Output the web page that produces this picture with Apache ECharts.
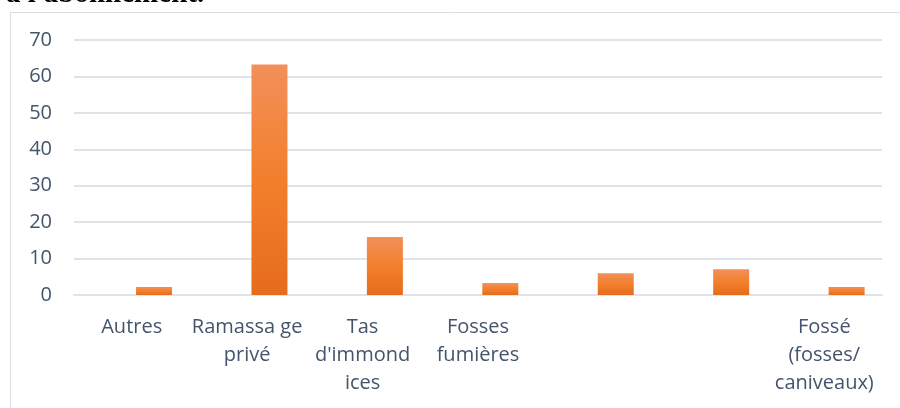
<!DOCTYPE html>
<html>
<head>
<meta charset="utf-8">
<script src="https://cdn.jsdelivr.net/npm/echarts@6/dist/echarts.min.js"></script>
<style>
  html, body { margin: 0; padding: 0; background: #ffffff; }
  #chart { width: 900px; height: 408px; }
</style>
</head>
<body>
<div id="chart"></div>
<script>
// Mode d'évacuation des ordures (%)
const categories = [
  'Autres',
  'Ramassa ge\nprivé',
  'Tas\nd\'immond\nices',
  'Fosses\nfumières',
  '',
  ' ',
  'Fossé\n(fosses/\ncaniveaux)'
];
const emptySeries = [0, 0, 0, 0, 0, 0, 0];
const values = [2.2, 63.3, 15.9, 3.3, 6.0, 7.1, 2.2];
const yTicks = { min: 0, max: 70, interval: 10 };
const headingText = 'à l\'abonnement.';

const textColor = '#44546a';
const gridColor = '#e0e3e9';
const fontFamily = '"Open Sans", Lato, sans-serif';

const chart = echarts.init(document.getElementById('chart'), null, { renderer: 'canvas' });

chart.setOption({
  backgroundColor: '#ffffff',
  animation: false,
  graphic: [
    {
      type: 'rect',
      shape: { x: 10.5, y: 12.5, width: 900, height: 420 },
      style: { fill: '#ffffff', stroke: '#d9dde5', lineWidth: 1 },
      silent: true,
      z: -10
    },
    {
      type: 'text',
      x: 6,
      y: 9,
      style: {
        text: headingText,
        font: 'bold 29px "Liberation Serif", "DejaVu Serif", serif',
        fill: '#000000',
        verticalAlign: 'bottom'
      },
      silent: true
    }
  ],
  grid: { left: 74, right: 18, top: 40, bottom: 113, containLabel: false },
  xAxis: {
    type: 'category',
    data: categories,
    axisLine: { show: true, lineStyle: { color: gridColor, width: 2 } },
    axisTick: { show: false },
    axisLabel: {
      interval: 0,
      margin: 18,
      color: textColor,
      fontSize: 20,
      lineHeight: 28,
      fontFamily: fontFamily,
      align: 'center'
    }
  },
  yAxis: {
    type: 'value',
    min: yTicks.min,
    max: yTicks.max,
    interval: yTicks.interval,
    axisLine: { show: false },
    axisTick: { show: false },
    splitLine: { lineStyle: { color: gridColor, width: 2 } },
    axisLabel: {
      margin: 22,
      color: textColor,
      fontSize: 20,
      fontFamily: fontFamily,
      padding: [3, 0, 0, 0]
    }
  },
  series: [
    {
      type: 'bar',
      data: emptySeries,
      barWidth: 36,
      barGap: '24%',
      itemStyle: { color: 'rgba(0,0,0,0)' },
      silent: true
    },
    {
      type: 'bar',
      data: values,
      barWidth: 36,
      barGap: '24%',
      itemStyle: {
        color: new echarts.graphic.LinearGradient(0, 0, 0, 1, [
          { offset: 0, color: '#f2905a' },
          { offset: 0.5, color: '#f37f2c' },
          { offset: 1, color: '#e56c1d' }
        ])
      }
    }
  ]
});
</script>
</body>
</html>
